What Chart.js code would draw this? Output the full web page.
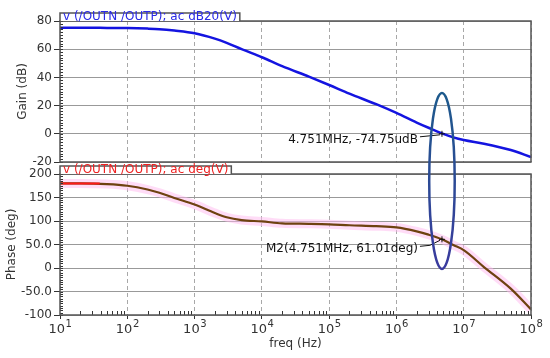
<!DOCTYPE html>
<html>
<head>
<meta charset="utf-8">
<script src="https://cdn.jsdelivr.net/npm/chart.js@4/dist/chart.umd.min.js"></script>
<style>
body { margin: 0; background: #fff; width: 550px; height: 358px; overflow: hidden; position: relative; }
canvas { position: absolute; left: 0; }
</style>
</head>
<body>
<canvas id="graficoGain" width="550" height="180" style="top:0"></canvas>
<canvas id="graficoFase" width="550" height="208" style="top:150px"></canvas>
<canvas id="capaMarca" width="550" height="358" style="top:0"></canvas>
<script>
// Datos (AC, freq en Hz)
const freqs = [10, 20, 50, 100, 200, 300, 500, 1e3, 2e3, 3e3, 5e3, 1e4, 2e4, 5e4, 1e5, 2e5, 5e5, 1e6, 2e6, 3e6, 4.751e6, 7e6, 1e7, 2e7, 5e7, 1e8];
const gainDB = [75.2, 75.2, 75.1, 75, 74.6, 74.2, 73.2, 71.3, 67.5, 64.5, 60, 54.3, 48, 40.5, 34.6, 28.5, 21, 14.8, 8, 4.3, 0.3, -2.5, -4.4, -7, -11.5, -16.5];
const faseDeg = [180, 180, 178.5, 175, 167, 160, 149, 135, 117, 108, 102, 99, 95, 94, 93, 91, 89, 86.5, 78, 71, 61, 49, 38, 2, -44, -88];
const freqsRojo = [10, 39];
const faseRojo = [180, 180];

const freqTicks = [1e1, 1e2, 1e3, 1e4, 1e5, 1e6, 1e7, 1e8];
const freqExp = ['1', '2', '3', '4', '5', '6', '7', '8'];
const gainTicks = [-20, 0, 20, 40, 60, 80];
const faseTicks = [-100, -50, 0, 50, 100, 150, 200];
const faseTickLabels = ['-100', '-50.0', '0', '50.0', '100', '150', '200'];

// marcadores
const marcaFreq = 4.751e6;
const marcaGain = 0;
const marcaFase = 61.01;
const textoGain = '4.751MHz, -74.75udB';
const textoFase = 'M2(4.751MHz, 61.01deg)';
// elipse dibujada a mano en la captura
const elipseFreqs = [3.07e6, 7.35e6];
const elipseGainTop = 29;
const elipseFaseBottom = -2;

const fuente = '"DejaVu Sans", Verdana, sans-serif';
const puntos = (xs, ys) => xs.map((x, i) => ({ x: x, y: ys[i] }));

const pluginMarco = {
    id: 'marco',
    afterDraw(chart, args, o) {
        const { ctx, chartArea: a, scales } = chart;
        ctx.save();
        // ticks menores eje y (hacia dentro)
        ctx.strokeStyle = '#333'; ctx.lineWidth = 1;
        for (let v = o.yMin; v <= o.yMax + 0.001; v += o.yPaso) {
            let y = Math.round(scales.y.getPixelForValue(v)) + 0.5;
            ctx.beginPath(); ctx.moveTo(a.left, y); ctx.lineTo(a.left + 3, y); ctx.stroke();
        }
        // ticks menores eje x
        if (o.menoresX) {
            for (let d = 1; d < 8; d++) {
                for (let k = 2; k <= 9; k++) {
                    let x = Math.round(scales.x.getPixelForValue(k * Math.pow(10, d))) + 0.5;
                    ctx.beginPath(); ctx.moveTo(x, a.bottom); ctx.lineTo(x, a.bottom - 4); ctx.stroke();
                }
            }
        }
        // marco
        ctx.strokeStyle = '#555'; ctx.lineWidth = 1.5;
        ctx.strokeRect(a.left, a.top, a.right - a.left, a.bottom - a.top);

        // pestaña con el nombre de la traza
        ctx.font = '12px ' + fuente;
        let w = ctx.measureText(o.titulo).width + 6;
        let top = a.top - 8;
        ctx.fillStyle = '#fff';
        ctx.fillRect(a.left, top, w, a.top - top);
        ctx.beginPath();
        ctx.moveTo(a.left, a.top); ctx.lineTo(a.left, top); ctx.lineTo(a.left + w, top); ctx.lineTo(a.left + w, a.top);
        ctx.stroke();
        ctx.fillStyle = o.colorTitulo; ctx.textBaseline = 'middle'; ctx.textAlign = 'left';
        ctx.fillText(o.titulo, a.left + 3, a.top - 4);

        // marcador y su texto
        let px = scales.x.getPixelForValue(marcaFreq);
        let py = scales.y.getPixelForValue(o.marcaValor);
        ctx.strokeStyle = '#111'; ctx.lineWidth = 1;
        ctx.beginPath();
        ctx.moveTo(px - 3, py); ctx.lineTo(px + 3, py);
        ctx.moveTo(px, py - 3); ctx.lineTo(px, py + 3);
        ctx.stroke();
        ctx.beginPath();
        ctx.moveTo(px - 22, py + o.dy - 3); ctx.lineTo(px - 12, py + o.dy - 4); ctx.lineTo(px - 2, py + 1);
        ctx.stroke();
        ctx.fillStyle = '#111'; ctx.textAlign = 'right'; ctx.textBaseline = 'middle';
        ctx.font = '12px ' + fuente;
        ctx.fillText(o.marcaTexto, px - 24, py + o.dy);

        // etiquetas 10^n del eje x
        if (o.etiquetasX) {
            freqTicks.forEach((f, i) => {
                let x = scales.x.getPixelForValue(f);
                ctx.font = '13px ' + fuente;
                let w1 = ctx.measureText('10').width;
                ctx.font = '10px ' + fuente;
                let w2 = ctx.measureText(freqExp[i]).width;
                let x0 = x - (w1 + w2) / 2;
                ctx.fillStyle = '#333'; ctx.textAlign = 'left';
                ctx.font = '13px ' + fuente;
                ctx.fillText('10', x0, a.bottom + 15);
                ctx.font = '10px ' + fuente;
                ctx.fillText(freqExp[i], x0 + w1 + 0.5, a.bottom + 9);
            });
            ctx.font = '12px ' + fuente; ctx.textAlign = 'center';
            ctx.fillText('freq (Hz)', (a.left + a.right) / 2, a.bottom + 29);
        }
        ctx.restore();
    }
};

function ejeX(alto) {
    return {
        type: 'logarithmic', min: 10, max: 1e8,
        afterBuildTicks: s => { s.ticks = freqTicks.map(v => ({ value: v })); },
        afterFit: s => { s.height = alto; },
        ticks: { display: false },
        grid: { color: '#a8a8a8', lineWidth: 1, drawTicks: alto > 20, tickLength: 4, tickColor: '#333' },
        border: { display: false, dash: [4, 3] }
    };
}

function ejeY(min, max, ticks, etiquetas, titulo, padTitulo) {
    return {
        min: min, max: max,
        afterBuildTicks: s => { s.ticks = ticks.map(v => ({ value: v })); },
        afterFit: s => { s.width = 60; },
        ticks: { color: '#333', font: { family: fuente, size: 12 }, padding: 2, callback: (v, i) => etiquetas[i] },
        grid: { color: '#999', lineWidth: 1, tickLength: 6, tickColor: '#333' },
        border: { display: false },
        title: { display: true, text: titulo, color: '#333', font: { family: fuente, size: 12 }, padding: { top: padTitulo, bottom: 0 } }
    };
}

const graficoGain = new Chart(document.getElementById('graficoGain'), {
    type: 'line',
    data: {
        datasets: [{
            data: puntos(freqs, gainDB),
            borderColor: '#1414e0', borderWidth: 2.5, pointRadius: 0, cubicInterpolationMode: 'monotone'
        }]
    },
    options: {
        responsive: false, animation: false, events: [],
        layout: { padding: { top: 21, right: 19, left: 0, bottom: 0 } },
        plugins: {
            legend: { display: false }, tooltip: { enabled: false },
            marco: { yMin: -20, yMax: 80, yPaso: 2, titulo: 'v (/OUTN /OUTP); ac dB20(V)', colorTitulo: '#2a2ae6', marcaValor: marcaGain, marcaTexto: textoGain, dy: 6 }
        },
        scales: {
            x: ejeX(18),
            y: ejeY(-20, 80, gainTicks, gainTicks.map(String), 'Gain (dB)', 16)
        }
    },
    plugins: [pluginMarco]
});

const graficoFase = new Chart(document.getElementById('graficoFase'), {
    type: 'line',
    data: {
        datasets: [{
            data: puntos(freqs, faseDeg), order: 3,
            borderColor: 'rgba(255,185,240,0.5)', borderWidth: 9, pointRadius: 0, cubicInterpolationMode: 'monotone'
        }, {
            data: puntos(freqs, faseDeg), order: 2,
            borderColor: '#6e4210', borderWidth: 2.2, pointRadius: 0, cubicInterpolationMode: 'monotone'
        }, {
            data: puntos(freqsRojo, faseRojo), order: 1,
            borderColor: '#ff1a1a', borderWidth: 2, pointRadius: 0
        }]
    },
    options: {
        responsive: false, animation: false, events: [],
        layout: { padding: { top: 24, right: 19, left: 0, bottom: 0 } },
        plugins: {
            legend: { display: false }, tooltip: { enabled: false },
            marco: { yMin: -100, yMax: 200, yPaso: 5, titulo: 'v (/OUTN /OUTP); ac deg(V)', colorTitulo: '#ee2222', marcaValor: marcaFase, marcaTexto: textoFase, dy: 10, menoresX: true, etiquetasX: true }
        },
        scales: {
            x: ejeX(43),
            y: ejeY(-100, 200, faseTicks, faseTickLabels, 'Phase (deg)', 5)
        }
    },
    plugins: [pluginMarco]
});

// Elipse que cruza ambos graficos
(function dibujarElipse() {
    const ctx = document.getElementById('capaMarca').getContext('2d');
    const offFase = 150;
    let xs = elipseFreqs.map(f => graficoGain.scales.x.getPixelForValue(f));
    let cx = graficoGain.scales.x.getPixelForValue(marcaFreq);
    let yTop = graficoGain.scales.y.getPixelForValue(elipseGainTop);
    let yBot = graficoFase.scales.y.getPixelForValue(elipseFaseBottom) + offFase;
    let rx = (xs[1] - xs[0]) / 2, ry = (yBot - yTop) / 2;
    let grad = ctx.createLinearGradient(0, yTop, 0, yBot);
    grad.addColorStop(0, '#1d5a8c'); grad.addColorStop(1, '#3a3a9e');
    ctx.strokeStyle = grad; ctx.lineWidth = 2.5;
    ctx.beginPath();
    ctx.ellipse(cx, yTop + ry, rx, ry, 0, 0, Math.PI * 2);
    ctx.stroke();
})();
</script>
</body>
</html>
